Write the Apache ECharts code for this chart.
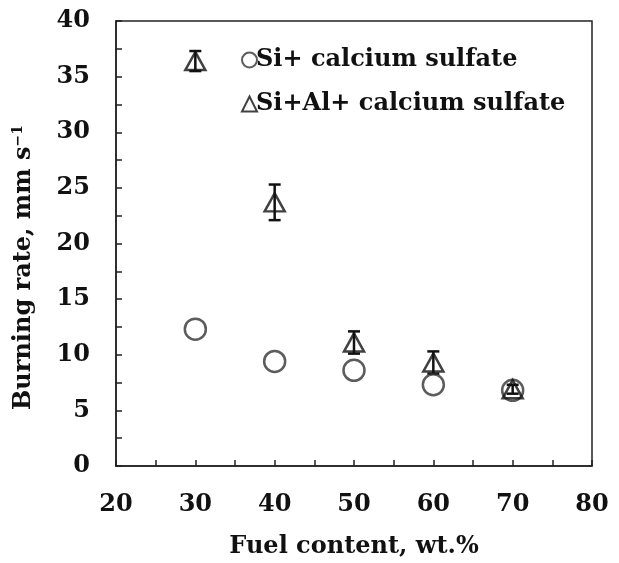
<!DOCTYPE html>
<html>
<head>
<meta charset="utf-8">
<script src="https://cdn.jsdelivr.net/npm/echarts@6/dist/echarts.min.js"></script>
<style>html,body{margin:0;padding:0;background:#fff}#c{width:619px;height:563px}</style>
</head>
<body>
<div id="c"></div>
<script>
const fuelContent = [30, 40, 50, 60, 70];
const siRate = [12.3, 9.4, 8.6, 7.3, 6.8];
const siAlRate = [36.4, 23.7, 11.1, 9.3, 6.9];
const siAlErr = [0.9, 1.6, 1.0, 1.0, 0.4];
const seriesNames = ['Si+ calcium sulfate', 'Si+Al+ calcium sulfate'];
const xTicks = [20, 30, 40, 50, 60, 70, 80];
const yTicks = [0, 5, 10, 15, 20, 25, 30, 35, 40];

const FONT = 'DejaVu Serif';
const chart = echarts.init(document.getElementById('c'));
const errData = fuelContent.map((x, i) => [x, siAlRate[i] - siAlErr[i], siAlRate[i] + siAlErr[i]]);

chart.setOption({
  animation: false,
  backgroundColor: '#fff',
  grid: {left: 116, top: 21, right: 27, bottom: 97, outerBoundsMode: 'none', containLabel: false,
    show: true, borderColor: '#222', borderWidth: 1.5, backgroundColor: 'transparent'},
  legend: {
    orient: 'vertical', left: 236, top: 43, itemGap: 20, itemWidth: 15, itemHeight: 15,
    data: seriesNames,
    textStyle: {fontFamily: FONT, fontWeight: 'bold', fontSize: 24, color: '#111', padding: [0, 0, 0, -6]}
  },
  xAxis: {
    type: 'value', min: xTicks[0], max: xTicks[xTicks.length - 1], interval: 10,
    name: 'Fuel content, wt.%', nameLocation: 'middle', nameGap: 69,
    nameTextStyle: {fontFamily: FONT, fontWeight: 'bold', fontSize: 24, color: '#111'},
    axisLine: {show: true, lineStyle: {color: '#222', width: 1.5}},
    axisTick: {show: true, inside: true, length: 6, lineStyle: {color: '#222', width: 1.5}},
    minorTick: {show: true, splitNumber: 2, length: 6, lineStyle: {color: '#222', width: 1.5}},
    axisLabel: {margin: 27, fontFamily: FONT, fontWeight: 'bold', fontSize: 24, color: '#111'},
    splitLine: {show: false}
  },
  yAxis: {
    type: 'value', min: yTicks[0], max: yTicks[yTicks.length - 1], interval: 5,
    name: 'Burning rate, mm s{sup|−1}', nameLocation: 'middle', nameGap: 79,
    nameTextStyle: {fontFamily: FONT, fontWeight: 'bold', fontSize: 24, color: '#111', padding: [0, 48, 0, 0],
      rich: {sup: {fontFamily: FONT, fontWeight: 'bold', fontSize: 14, color: '#111', verticalAlign: 'top', padding: [0, 0, 12, 0]}}},
    axisLine: {show: true, lineStyle: {color: '#222', width: 1.5}},
    axisTick: {show: true, inside: true, length: 6, lineStyle: {color: '#222', width: 1.5}},
    minorTick: {show: true, splitNumber: 2, length: 6, lineStyle: {color: '#222', width: 1.5}},
    axisLabel: {margin: 26, fontFamily: FONT, fontWeight: 'bold', fontSize: 24, color: '#111'},
    splitLine: {show: false}
  },
  series: [
    {
      type: 'custom', name: 'err', silent: true, z: 3,
      data: errData,
      renderItem: function (params, api) {
        const x = api.value(0);
        const lo = api.coord([x, api.value(1)]);
        const hi = api.coord([x, api.value(2)]);
        const w = 6;
        const st = {stroke: '#111', lineWidth: 2.5};
        return {type: 'group', children: [
          {type: 'line', shape: {x1: lo[0], y1: lo[1], x2: hi[0], y2: hi[1]}, style: st},
          {type: 'line', shape: {x1: lo[0] - w, y1: lo[1], x2: lo[0] + w, y2: lo[1]}, style: st},
          {type: 'line', shape: {x1: hi[0] - w, y1: hi[1], x2: hi[0] + w, y2: hi[1]}, style: st}
        ]};
      }
    },
    {
      type: 'scatter', name: seriesNames[0], symbol: 'circle', symbolSize: 21, z: 4,
      data: fuelContent.map((x, i) => [x, siRate[i]]),
      itemStyle: {color: 'rgba(255,255,255,0)', borderColor: '#333', borderWidth: 2.5}
    },
    {
      type: 'scatter', name: seriesNames[1], symbol: 'triangle', symbolSize: [20, 18], z: 5,
      data: fuelContent.map((x, i) => [x, siAlRate[i]]),
      itemStyle: {color: 'rgba(255,255,255,0)', borderColor: '#111', borderWidth: 2.5}
    }
  ]
});
</script>
</body>
</html>
